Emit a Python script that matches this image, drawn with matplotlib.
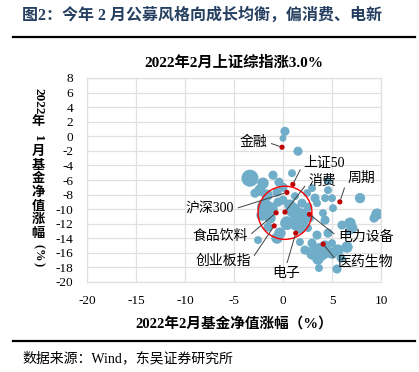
import matplotlib
matplotlib.use("Agg")
import matplotlib.pyplot as plt
from matplotlib.patches import Ellipse

plt.rcParams['font.family'] = ['Liberation Serif', 'Noto Sans CJK SC', 'DejaVu Sans']
plt.rcParams['axes.unicode_minus'] = False

# ---------------- data ----------------
# fund returns: x = Feb 2022 (%), y = Jan 2022 (%), bubble size ~ fund scale
fund_x = [0.20, 0.0, 1.53, -3.37, -2.04, -1.02, -0.41, 0.92, -2.35, -2.86,
          -0.61, 0.0, -1.63, -0.51, 2.45, 2.96, 1.94, 4.59, 3.27, 4.29,
          5.0, 4.59, 7.86, 3.47, 5.10, 4.08, 9.59, 9.29, -1.84, 1.02,
          1.73, 0.41, 2.04, 1.73, -0.31, -0.61, -2.55, -1.53, 2.55, 1.73,
          4.29, 4.59, 6.02, 6.84, 7.14, 6.84, 2.76, 6.53, 3.78, 3.06,
          5.0, 3.67, 5.51, 5.0, 3.47, 2.96, 4.49, 3.57, -2.14, -1.33,
          1.22, 0.0, 4.29, 5.61, 5.92, 2.24, 0.71, 1.33, 2.55, -1.12]
fund_y = [0.68, -0.27, -2.05, -5.75, -6.44, -5.34, -6.30, -5.07, -7.40, -7.81,
          -7.67, -6.99, -8.08, -9.04, -7.81, -7.12, -9.18, -6.16, -8.49, -8.49,
          -8.49, -7.40, -8.49, -9.18, -9.86, -10.55, -10.68, -11.23, -9.73, -10.14,
          -11.10, -11.92, -11.78, -12.60, -13.29, -13.97, -14.25, -12.47, -12.60, -14.52,
          -11.51, -13.29, -12.19, -11.92, -12.60, -12.88, -11.23, -15.21, -15.89, -16.03,
          -16.03, -18.08, -18.22, -14.66, -13.56, -14.66, -15.89, -16.85, -10.82, -11.23,
          -8.22, -8.77, -15.07, -15.62, -16.71, -15.62, -9.45, -12.19, -9.73, -9.86]
fund_scale = [33, 19, 33, 116, 52, 33, 33, 25, 52, 33,
              33, 33, 52, 33, 25, 25, 33, 25, 33, 25,
              25, 25, 42, 25, 25, 25, 52, 33, 101, 87,
              132, 75, 52, 52, 52, 52, 25, 33, 25, 25,
              33, 33, 33, 52, 33, 33, 25, 52, 132, 75,
              52, 25, 33, 25, 33, 33, 52, 52, 52, 52,
              25, 33, 52, 52, 33, 33, 52, 52, 33, 52]

# indices / sectors
idx_names = ['金融', '上证50', '消费', '周期', '沪深300', '食品饮料',
             '创业板指', '电子', '电力设备', '医药生物']
idx_x = [-0.1, 1.0, 0.2, 5.8, 0.4, -0.7, -0.9, 1.3, 2.7, 4.1]
idx_y = [-1.5, -6.6, -10.4, -9.0, -7.7, -10.5, -12.3, -13.3, -10.7, -14.8]

x_ticks = [-20, -15, -10, -5, 0, 5, 10]
y_ticks = [8, 6, 4, 2, 0, -2, -4, -6, -8, -10, -12, -14, -16, -18, -20]

# ---------------- layout ----------------
W, H = 419, 372
SIZE_FACTOR = 1.3
fig = plt.figure(figsize=(W / 100, H / 100), dpi=100)
ax = fig.add_axes([87 / W, 1 - 282 / H, (381 - 87) / W, (282 - 78) / H])

ax.scatter(fund_x, fund_y, s=[v * SIZE_FACTOR for v in fund_scale],
           color='#6fadc8', edgecolors='none', zorder=3)
ax.scatter(idx_x, idx_y, s=14, color='#c00000', edgecolors='none', zorder=5)

ax.add_patch(Ellipse((0.2, -10.5), 5.5, 7.3, fill=False, edgecolor='#ff0000',
                     lw=1.0, zorder=6))

# label positions (data units) and alignment
lab_pos = {
    '金融': (-1.6, -0.8, 'right', (1, 0.5)),
    '上证50': (2.1, -3.7, 'left', (0, 0.5)),
    '消费': (2.6, -6.2, 'left', (0, 0.5)),
    '周期': (6.6, -5.75, 'left', (0, 0.5)),
    '沪深300': (-5.0, -10.0, 'right', (1, 0.5)),
    '食品饮料': (-3.6, -13.8, 'right', (1, 0.5)),
    '创业板指': (-3.3, -17.1, 'right', (1, 0.5)),
    '电子': (0.3, -18.8, 'center', (0.5, 1)),
    '电力设备': (5.6, -13.8, 'left', (0, 0.5)),
    '医药生物': (5.6, -17.3, 'left', (0, 0.5)),
}
for name, px, py in zip(idx_names, idx_x, idx_y):
    tx, ty, ha, rp = lab_pos[name]
    ax.annotate(name, xy=(px, py), xytext=(tx, ty), ha=ha, va='center',
                fontsize=10, color='black', zorder=7, annotation_clip=False,
                arrowprops=dict(arrowstyle='-', color='#404040', lw=0.7,
                                relpos=rp, shrinkA=1, shrinkB=2))

ax.set_xlim(-20, 10)
ax.set_ylim(-20, 8)
ax.set_xticks(x_ticks)
ax.set_yticks(y_ticks)
ax.grid(True, color='#e0e0e0', lw=0.9, zorder=0)
ax.set_axisbelow(True)
for sp in ax.spines.values():
    sp.set_color('#e0e0e0')
    sp.set_linewidth(0.9)
ax.tick_params(length=0, labelsize=9.5, pad=10, labelcolor='black')
ax.tick_params(axis='x', pad=9)

ax.set_title('2022年2月上证综指涨3.0%', fontsize=11, fontweight='bold', pad=8)
ax.set_xlabel('2022年2月基金净值涨幅（%）', fontsize=10.5, fontweight='bold', labelpad=7)

# vertical stacked y-label
def ft(xp, yp, s, rot=0, fs=9.5):
    fig.text(xp / W, 1 - yp / H, s, rotation=rot, ha='center', va='center',
             fontsize=fs, fontweight='bold')

ft(38, 101, '2022', rot=270)
ft(38, 122, '年')
ft(38, 138, '1', rot=270)
ylab_chars = ['月', '基', '金', '净', '值', '涨', '幅']
for i, c in enumerate(ylab_chars):
    ft(38, 152 + i * 13.6, c)
ft(38, 246, '(', rot=270, fs=9)
ft(38, 255, '%', rot=270, fs=9)
ft(38, 264, ')', rot=270, fs=9)

# header / footer
fig.text(22 / W, 1 - 16 / H, '图2：今年 2 月公募风格向成长均衡，偏消费、电新',
         ha='left', va='center', fontsize=11.5, fontweight='bold', color='#243f60')
fig.add_artist(plt.Line2D([13 / W, 415 / W], [1 - 37 / H, 1 - 37 / H],
                          color='black', lw=1.6, transform=fig.transFigure))
fig.add_artist(plt.Line2D([13 / W, 415 / W], [1 - 341 / H, 1 - 341 / H],
                          color='black', lw=1.6, transform=fig.transFigure))
fig.text(22 / W, 1 - 358 / H, '数据来源：Wind，东吴证券研究所',
         ha='left', va='center', fontsize=10, color='black')

fig.savefig('out.png', dpi=100)
